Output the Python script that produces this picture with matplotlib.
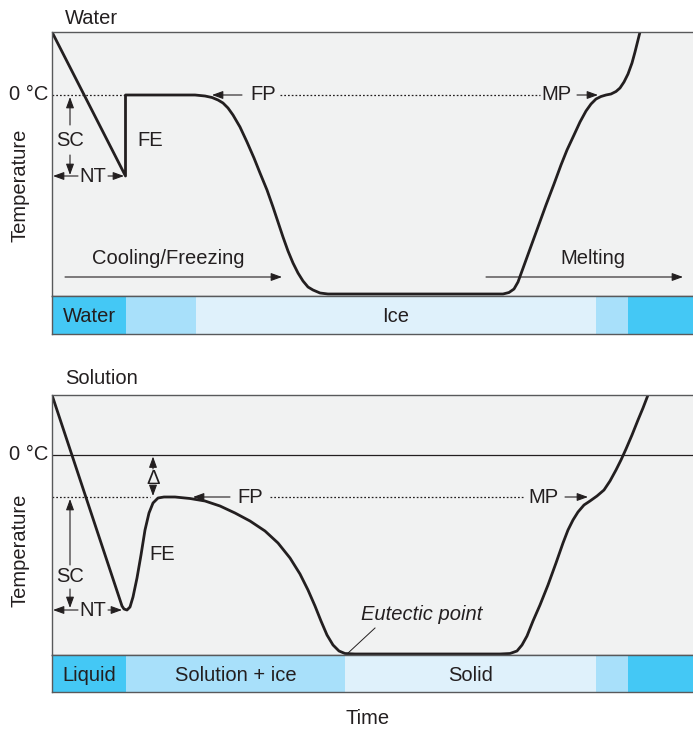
import matplotlib
matplotlib.use('Agg')
import matplotlib.pyplot as plt

# ── colours ───────────────────────────────────────────────────────────────────
BG     = '#F1F2F2'
INK    = '#231F20'
EDGE   = '#58595B'
DARK   = '#44C8F5'
MID    = '#A8E0FA'
PALE   = '#DFF1FB'

plt.rcParams['font.family'] = ['Liberation Sans', 'DejaVu Sans']
FS = 14.5

# ── data (time in arbitrary units, temperature relative to 0 °C) ─────────────
water_t = [0.0, 7.35, 7.35, 12.8, 14.3, 15.3, 16.0, 16.6, 17.1, 17.6, 18.1, 18.8,
           19.5, 20.2, 20.8, 21.5, 22.1, 22.6, 23.1, 23.6, 24.1, 24.6, 25.1,
           25.6, 26.1, 26.8, 27.6, 44.3, 45.1, 45.7, 46.2, 46.6, 47.0, 47.8,
           48.6, 49.4, 50.2, 50.9, 51.5, 52.2, 52.8, 53.4, 53.9, 54.4, 54.9,
           55.4, 55.9, 56.4, 56.8, 57.2, 57.6, 58.0, 58.3, 58.6, 58.8]
water_T = [6.3, -8.1, 0.0, 0.0, 0.0, -0.1, -0.25, -0.5, -0.8, -1.3, -2.0, -3.2,
           -4.7, -6.3, -7.8, -9.5, -11.2, -12.7, -14.2, -15.6, -16.8, -17.8,
           -18.6, -19.2, -19.5, -19.8, -19.9, -19.9, -19.9, -19.75, -19.4,
           -18.7, -17.6, -15.4, -13.2, -11.0, -8.9, -7.0, -5.5, -4.0, -2.7,
           -1.6, -0.9, -0.4, -0.15, 0.0, 0.1, 0.35, 0.7, 1.3, 2.1, 3.2, 4.3,
           5.5, 6.3]

sol_t = [0.0, 7.0, 7.2, 7.5, 7.8, 8.1, 8.5, 8.9, 9.3, 9.7, 10.1, 10.6, 11.2,
         12.3, 13.8, 15.3, 16.8, 18.3, 19.8, 21.3, 22.6, 23.8, 24.8, 25.6,
         26.3, 26.9, 27.5, 28.1, 28.7, 29.3, 30.3, 44.8, 45.8, 46.5, 47.0,
         47.5, 48.1, 48.8, 49.6, 50.4, 51.1, 51.6, 52.1, 52.6, 53.2, 53.8,
         54.5, 55.2, 55.8, 56.4, 56.9, 57.4, 58.0, 58.6, 59.1, 59.6]
sol_T = [6.0, -15.1, -15.4, -15.5, -15.2, -14.2, -12.3, -10.0, -7.5, -5.8,
         -4.8, -4.3, -4.2, -4.2, -4.35, -4.6, -5.1, -5.8, -6.6, -7.6, -8.8,
         -10.3, -11.9, -13.5, -15.1, -16.6, -18.0, -19.0, -19.6, -19.85,
         -19.9, -19.9, -19.85, -19.6, -19.0, -18.1, -16.6, -15.0, -13.0,
         -10.8, -8.8, -7.5, -6.5, -5.7, -5.0, -4.6, -4.1, -3.5, -2.6, -1.5,
         -0.5, 0.6, 2.0, 3.5, 4.7, 6.0]

fp_water = 0.0
fp_sol = -4.2

# phase bars: (start, end, colour, label)
water_phases = [(0.0, 7.4, DARK, 'Water'), (7.4, 14.4, MID, ''),
                (14.4, 54.4, PALE, 'Ice'), (54.4, 57.6, MID, ''),
                (57.6, 64.1, DARK, '')]
sol_phases = [(0.0, 7.4, DARK, 'Liquid'), (7.4, 29.3, MID, 'Solution + ice'),
              (29.3, 54.4, PALE, 'Solid'), (54.4, 57.6, MID, ''),
              (57.6, 64.1, DARK, '')]

XMAX = 64.1

# ── figure ────────────────────────────────────────────────────────────────────
W, H = 693, 732
fig = plt.figure(figsize=(W / 100, H / 100), dpi=100)
fig.patch.set_facecolor('white')


def px_axes(x0, y0, x1, y1):
    return fig.add_axes([x0 / W, 1 - y1 / H, (x1 - x0) / W, (y1 - y0) / H])


def style(ax):
    ax.set_facecolor(BG)
    ax.set_xticks([])
    ax.set_yticks([])
    for s in ['top', 'bottom', 'left']:
        ax.spines[s].set_color(EDGE)
        ax.spines[s].set_linewidth(1.0)
    ax.spines['right'].set_visible(False)


def arrow(ax, x0, y0, x1, y1):
    ax.annotate('', xy=(x1, y1), xytext=(x0, y0),
                arrowprops=dict(arrowstyle='-|>,head_length=0.55,head_width=0.2',
                                mutation_scale=12, color=INK, lw=0.8,
                                shrinkA=0, shrinkB=0))


def txt(ax, x, y, s, **kw):
    ax.text(x, y, s, ha='center', va='center', fontsize=FS, color=INK, **kw)


def dotted(ax, x0, x1, y):
    ax.plot([x0, x1], [y, y], color=INK, lw=0.9, ls=(0, (1.4, 1.6)))


def phase_bar(ax, phases):
    style(ax)
    for a, b, c, lab in phases:
        ax.axvspan(a, b, color=c, lw=0)
        if lab:
            txt(ax, (a + b) / 2, 0.45, lab)
    ax.set_xlim(0, XMAX)
    ax.set_ylim(0, 1)


# ── top: water ────────────────────────────────────────────────────────────────
ax1 = px_axes(52, 32, 693, 296)
style(ax1)
ax1.set_xlim(0, XMAX)
ax1.set_ylim(-20.1, 6.3)
ax1.plot(water_t, water_T, color=INK, lw=2.0, solid_joinstyle='round',
         solid_capstyle='round', clip_on=True)

dotted(ax1, 0, 7.3, fp_water)
dotted(ax1, 22.8, 48.8, fp_water)
arrow(ax1, 19.0, fp_water, 16.0, fp_water)
txt(ax1, 21.1, fp_water, 'FP')
txt(ax1, 50.4, fp_water, 'MP')
arrow(ax1, 52.5, fp_water, 54.6, fp_water)

arrow(ax1, 1.8, -3.0, 1.8, -0.2)
txt(ax1, 1.8, -4.5, 'SC')
arrow(ax1, 1.8, -6.0, 1.8, -8.0)
arrow(ax1, 2.6, -8.1, 0.1, -8.1)
txt(ax1, 4.1, -8.1, 'NT')
arrow(ax1, 5.6, -8.1, 7.2, -8.1)
txt(ax1, 9.8, -4.5, 'FE')

arrow(ax1, 1.3, -18.2, 23.0, -18.2)
txt(ax1, 11.6, -16.3, 'Cooling/Freezing')
arrow(ax1, 43.4, -18.2, 63.1, -18.2)
txt(ax1, 54.1, -16.3, 'Melting')

bar1 = px_axes(52, 296, 693, 334)
phase_bar(bar1, water_phases)

fig.text(65 / W, 1 - 18 / H, 'Water', ha='left', va='center', fontsize=FS, color=INK)
fig.text(48 / W, 1 - 95 / H, '0 °C', ha='right', va='center', fontsize=FS, color=INK)
fig.text(20 / W, 1 - 185 / H, 'Temperature', ha='center', va='center',
         rotation=90, fontsize=FS, color=INK)

# ── bottom: solution ──────────────────────────────────────────────────────────
ax2 = px_axes(52, 395, 693, 655)
style(ax2)
ax2.set_xlim(0, XMAX)
ax2.set_ylim(-20.0, 6.0)
ax2.axhline(0, color=INK, lw=0.9)
ax2.plot(sol_t, sol_T, color=INK, lw=2.0, solid_joinstyle='round',
         solid_capstyle='round')

dotted(ax2, 0, 9.8, fp_sol)
dotted(ax2, 21.8, 47.1, fp_sol)
arrow(ax2, 17.8, fp_sol, 14.1, fp_sol)
txt(ax2, 19.8, fp_sol, 'FP')
txt(ax2, 49.1, fp_sol, 'MP')
arrow(ax2, 51.3, fp_sol, 53.6, fp_sol)

arrow(ax2, 10.1, -1.4, 10.1, -0.15)
txt(ax2, 10.1, -2.3, 'Δ')
arrow(ax2, 10.1, -3.1, 10.1, -4.1)

arrow(ax2, 1.8, -11.0, 1.8, -4.4)
txt(ax2, 1.8, -12.2, 'SC')
arrow(ax2, 1.8, -13.4, 1.8, -15.3)
arrow(ax2, 2.6, -15.5, 0.1, -15.5)
txt(ax2, 4.1, -15.5, 'NT')
arrow(ax2, 5.6, -15.5, 7.0, -15.5)
txt(ax2, 11.0, -10.0, 'FE')

ax2.plot([29.5, 32.3], [-19.9, -17.3], color=INK, lw=0.7)
txt(ax2, 37.0, -15.9, 'Eutectic point', style='italic')

bar2 = px_axes(52, 655, 693, 692)
phase_bar(bar2, sol_phases)

fig.text(65 / W, 1 - 378 / H, 'Solution', ha='left', va='center', fontsize=FS, color=INK)
fig.text(48 / W, 1 - 455 / H, '0 °C', ha='right', va='center', fontsize=FS, color=INK)
fig.text(20 / W, 1 - 550 / H, 'Temperature', ha='center', va='center',
         rotation=90, fontsize=FS, color=INK)
fig.text(368 / W, 1 - 718 / H, 'Time', ha='center', va='center', fontsize=FS, color=INK)

fig.savefig('out.png', dpi=100, facecolor='white')
plt.close(fig)
